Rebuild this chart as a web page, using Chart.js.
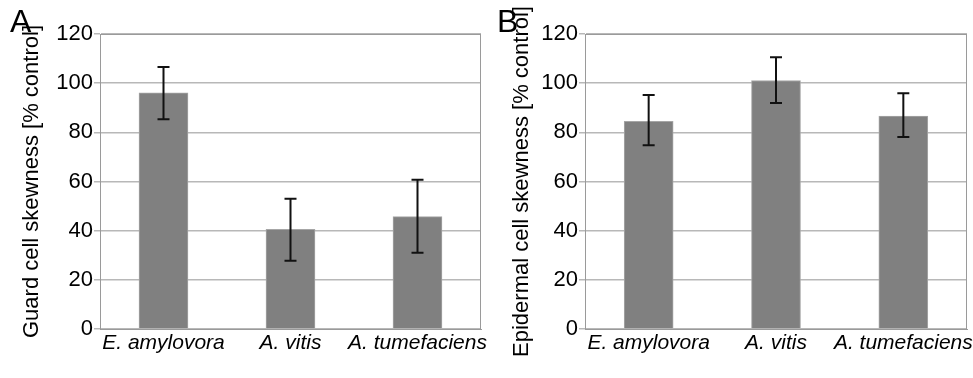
<!DOCTYPE html>
<html>
<head>
<meta charset="utf-8">
<script src="https://cdn.jsdelivr.net/npm/chart.js@4.4.1/dist/chart.umd.min.js"></script>
<style>
  body { margin: 0; background: #fff; }
  #wrap { position: relative; width: 973px; height: 378px; overflow: hidden; }
  .panel { position: absolute; top: 0; height: 378px; }
  .letter { position: absolute; font-family: "Liberation Sans", Arial, sans-serif; font-size: 32px; color: #000; }
</style>
</head>
<body>
<div id="wrap">
  <div class="panel" style="left:0;width:510px"><canvas id="chartA"></canvas></div>
  <div class="panel" style="left:490px;width:483px"><canvas id="chartB"></canvas></div>
  <div class="letter" style="left:10px;top:3px">A</div>
  <div class="letter" style="left:497px;top:3px">B</div>
</div>
<script>
const strains = ['E. amylovora', 'A. vitis', 'A. tumefaciens'];
const yTicks = [0, 20, 40, 60, 80, 100, 120];

// panel A - guard cells
const guardMean = [96.1, 40.5, 45.7];
const guardLow = [85.3, 27.8, 31.0];
const guardHigh = [106.6, 53.0, 60.7];

// panel B - epidermal cells
const epiMean = [84.5, 101.1, 86.6];
const epiLow = [74.7, 91.9, 78.1];
const epiHigh = [95.2, 110.5, 95.9];

const FONT = '"Liberation Sans", Arial, sans-serif';

// draws whiskers from the low/high arrays and the plot frame
const errorBars = {
  id: 'errorBars',
  afterDatasetsDraw(chart, args, opts) {
    const ctx = chart.ctx;
    const y = chart.scales.y;
    const area = chart.chartArea;
    ctx.save();
    ctx.strokeStyle = '#9a9a9a';
    ctx.lineWidth = 1;
    ctx.strokeRect(area.left + 0.5, area.top + 0.5, area.right - area.left - 1, area.bottom - area.top);
    ctx.strokeStyle = '#111';
    ctx.lineWidth = 2;
    opts.low.forEach((lo, i) => {
      const cx = chart.getDatasetMeta(0).data[i].x;
      const yTop = y.getPixelForValue(opts.high[i]);
      const yBot = y.getPixelForValue(lo);
      ctx.beginPath();
      ctx.moveTo(cx, yTop);
      ctx.lineTo(cx, yBot);
      ctx.moveTo(cx - 6, yTop);
      ctx.lineTo(cx + 6, yTop);
      ctx.moveTo(cx - 6, yBot);
      ctx.lineTo(cx + 6, yBot);
      ctx.stroke();
    });
    ctx.restore();
  }
};

function makeChart(id, means, low, high, title, leftPad, yWidth, rightPad) {
  const ctx = document.getElementById(id).getContext('2d');
  return new Chart(ctx, {
    type: 'bar',
    data: {
      labels: strains,
      datasets: [{
        data: means,
        backgroundColor: '#808080',
        borderColor: '#a6a6a6',
        borderWidth: 1,
        barThickness: 49
      }]
    },
    options: {
      responsive: true,
      maintainAspectRatio: false,
      animation: false,
      layout: { padding: { left: leftPad, right: rightPad, top: 34, bottom: 0 } },
      plugins: {
        legend: { display: false },
        tooltip: { enabled: false },
        errorBars: { low, high }
      },
      scales: {
        x: {
          grid: { display: false },
          border: { color: '#9a9a9a' },
          ticks: { color: '#000', font: { family: FONT, size: 21, style: 'italic' }, maxRotation: 0, autoSkip: false, padding: -6 },
          afterFit: s => { s.paddingLeft = 0; s.paddingRight = 0; s.height = 49; }
        },
        y: {
          min: 0,
          max: 120,
          afterBuildTicks: s => { s.ticks = yTicks.map(v => ({ value: v })); },
          grid: { color: '#b8b8b8', lineWidth: 1.5, tickLength: 6 },
          border: { color: '#9a9a9a' },
          ticks: { color: '#000', font: { family: FONT, size: 22 }, padding: 1 },
          title: { display: true, text: title, color: '#000', font: { family: FONT, size: 22 }, padding: { top: 0, bottom: 2 } },
          afterFit: s => { s.width = yWidth; s.paddingTop = 0; s.paddingBottom = 0; }
        }
      }
    },
    plugins: [errorBars]
  });
}

makeChart('chartA', guardMean, guardLow, guardHigh, 'Guard cell skewness [% control]', 19, 81, 29);
makeChart('chartB', epiMean, epiLow, epiHigh, 'Epidermal cell skewness [% control]', 19, 76, 6);
</script>
</body>
</html>
